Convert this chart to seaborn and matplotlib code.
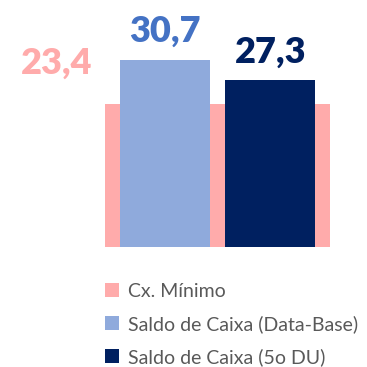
import matplotlib
matplotlib.use("Agg")
import matplotlib.pyplot as plt
from matplotlib.patches import Patch
import seaborn as sns
import pandas as pd

# Values
series = ["Cx. Mínimo", "Saldo de Caixa (Data-Base)", "Saldo de Caixa (5o DU)"]
values = [23.4, 30.7, 27.3]
labels = ["23,4", "30,7", "27,3"]
bar_colors = ["#FFABAB", "#8FAADC", "#002060"]
label_colors = ["#FFABAB", "#4472C4", "#002060"]
group = ["Caixa"]

sns.set_style("white")
plt.rcParams["font.family"] = ["Lato", "DejaVu Sans"]

W = H = 367
fig = plt.figure(figsize=(W / 100, H / 100), dpi=100)
ax = fig.add_axes([105 / W, (H - 247) / H, 225 / W, 247 / H])

# Wide background bar (minimum cash)
df_min = pd.DataFrame({"g": group, "v": [values[0]]})
sns.barplot(data=df_min, x="g", y="v", color=bar_colors[0], width=1.0,
            saturation=1, ax=ax, errorbar=None, linewidth=0)

# Two cash balance bars drawn in front
df_cash = pd.DataFrame({"g": group * 2, "v": values[1:], "s": series[1:]})
sns.barplot(data=df_cash, x="g", y="v", hue="s", hue_order=series[1:],
            palette=bar_colors[1:], width=0.94, gap=0.15, dodge=True,
            saturation=1, ax=ax, errorbar=None, legend=False, linewidth=0)

ax.set_xlim(-0.5, 0.5)
ax.set_ylim(0, 247 / 6.1)
ax.axis("off")

# Value labels
patches = ax.patches
p_min = patches[0]
ax.annotate(labels[0], xy=(p_min.get_x(), values[0]), xytext=(-48 * 0.72, 31 * 0.72),
            textcoords="offset points", ha="center", va="baseline",
            fontsize=26, fontweight="heavy", color=label_colors[0],
            annotation_clip=False)
for p, lab, col in zip(patches[1:3], labels[1:], label_colors[1:]):
    ax.annotate(lab, xy=(p.get_x() + p.get_width() / 2, p.get_height()),
                xytext=(0, 18 * 0.72), textcoords="offset points",
                ha="center", va="baseline", fontsize=26, fontweight="heavy",
                color=col, annotation_clip=False)

# Legend below the bars
handles = [Patch(facecolor=c, edgecolor="none") for c in bar_colors]
fig.legend(handles, series, loc="upper left", bbox_to_anchor=(97 / W, 1 - 275 / H),
           frameon=False, fontsize=14, labelcolor="#595959",
           handlelength=0.75, handleheight=0.75, handletextpad=0.45,
           labelspacing=0.78, borderaxespad=0)

fig.savefig("out.png", dpi=100)
